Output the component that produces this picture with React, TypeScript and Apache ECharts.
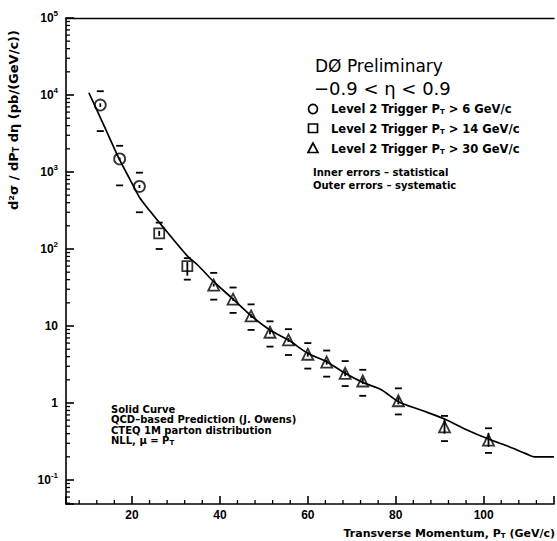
import React, { useEffect, useRef } from 'react';
import * as echarts from 'echarts';

const FONT = 'Liberation Sans';
const WIDE = 'DejaVu Sans';

// Axis ranges
const X_MIN = 5;
const X_MAX = 116;
const Y_MIN = 0.0488;
const Y_MAX = 100000;

// Level 2 Trigger PT > 6 GeV/c (circles)
const circleX = [12.8, 17.2, 21.7];
const circleY = [7400, 1480, 650];
const circleSysLo = [3400, 670, 300];
const circleSysHi = [11200, 2190, 980];
const circleStatLo = [7000, 1420, 620];
const circleStatHi = [7800, 1540, 680];

// Level 2 Trigger PT > 14 GeV/c (squares)
const squareX = [26.2, 32.6];
const squareY = [160, 60];
const squareSysLo = [100, 40];
const squareSysHi = [220, 76];
const squareStatLo = [148, 45];
const squareStatHi = [172, 68];

// Level 2 Trigger PT > 30 GeV/c (triangles)
const triX = [38.6, 43.0, 47.1, 51.4, 55.6, 60.0, 64.3, 68.5, 72.5, 80.6, 91.1, 101.1];
const triY = [34, 22.3, 13.5, 8.3, 6.6, 4.3, 3.4, 2.43, 1.93, 1.07, 0.49, 0.33];
const triSysLo = [22, 14.8, 8.9, 5.4, 4.2, 2.8, 2.2, 1.66, 1.24, 0.71, 0.32, 0.225];
const triSysHi = [49, 31.6, 19.1, 11.5, 9.1, 6.0, 4.8, 3.5, 2.7, 1.55, 0.68, 0.47];
const triStatLo = [32.5, 21.3, 12.8, 7.8, 6.2, 4.0, 3.15, 2.23, 1.76, 0.96, 0.40, 0.27];
const triStatHi = [35.5, 23.3, 14.2, 8.8, 7.0, 4.6, 3.65, 2.63, 2.1, 1.18, 0.62, 0.41];

// QCD-based prediction (solid curve)
const curveX = [10.2, 12.6, 15, 17.1, 19.5, 21.7, 24, 26.4, 29.5, 32.8, 35.0, 38.6, 42.8, 46.9, 51.4, 55.6, 60.0, 64.3, 68.5, 72.6, 76.8, 80.6, 85.7, 91.1, 96.1, 101.1, 105.8, 109.6, 111.5, 116];
const curveY = [10700, 5400, 2700, 1480, 810, 470, 316, 215, 131, 79, 61.5, 37.6, 22.9, 13.9, 8.87, 6.58, 4.42, 3.44, 2.43, 1.84, 1.48, 1.04, 0.81, 0.62, 0.45, 0.34, 0.27, 0.22, 0.20, 0.20];

// Axis minor ticks
const xMinorTicks = [8, 12, 16, 24, 28, 32, 36, 44, 48, 52, 56, 64, 68, 72, 76, 84, 88, 92, 96, 104, 108, 112];
const yDecades = [-2, -1, 0, 1, 2, 3, 4];
const yMinorMult = [2, 3, 4, 5, 6, 7, 8, 9];

// Text annotations
const legendLabels = [
  'Level 2 Trigger P{sub|T} > 6 GeV/c',
  'Level 2 Trigger P{sub|T} > 14 GeV/c',
  'Level 2 Trigger P{sub|T} > 30 GeV/c',
];
const noteLines = ['Solid Curve', 'QCD–based Prediction (J. Owens)', 'CTEQ 1M parton distribution', 'NLL, μ = P{sub|T}'];

function buildErr(xs: number[], sysLo: number[], sysHi: number[], stLo: number[], stHi: number[]) {
  return xs.map((x, i) => [x, sysLo[i], sysHi[i], stLo[i], stHi[i]]);
}

export default function App() {
  const ref = useRef<HTMLDivElement>(null);

  useEffect(() => {
    if (!ref.current) return;
    const chart = echarts.init(ref.current, null, { renderer: 'svg' });

    const yMinor: number[][] = [];
    yDecades.forEach((d) => {
      yMinorMult.forEach((m) => {
        const v = m * Math.pow(10, d);
        if (v > Y_MIN && v < Y_MAX) yMinor.push([X_MIN, v]);
      });
    });
    const xMinor = xMinorTicks.map((x) => [x, Y_MIN]);

    const errRender = (params: any, api: any) => {
      const x = api.value(0);
      const sLo = api.coord([x, api.value(1)]);
      const sHi = api.coord([x, api.value(2)]);
      const tLo = api.coord([x, api.value(3)]);
      const tHi = api.coord([x, api.value(4)]);
      const w = 3.5;
      const st = { stroke: '#000', lineWidth: 1.8 };
      return {
        type: 'group',
        children: [
          { type: 'line', shape: { x1: sLo[0] - w, y1: sLo[1], x2: sLo[0] + w, y2: sLo[1] }, style: st },
          { type: 'line', shape: { x1: sHi[0] - w, y1: sHi[1], x2: sHi[0] + w, y2: sHi[1] }, style: st },
          { type: 'line', shape: { x1: tLo[0], y1: tLo[1], x2: tHi[0], y2: tHi[1] }, style: st },
        ],
      };
    };

    const markerStyle = { color: 'rgba(0,0,0,0)', borderColor: '#000', borderWidth: 1.8 };
    const subRich = (size: number, pad: number) => ({
      sub: { fontSize: size, fontWeight: 'bold', fontFamily: WIDE, fill: '#000', padding: [pad, 0, 0, 0] },
    });

    const option: any = {
      animation: false,
      backgroundColor: '#fff',
      grid: { left: 66, top: 18, right: -5, bottom: 37, containLabel: false },
      xAxis: [
        {
          type: 'value',
          min: X_MIN,
          max: X_MAX,
          axisLine: { show: true, onZero: false, lineStyle: { color: '#000', width: 1.6 } },
          axisTick: { show: true, inside: true, length: 8, lineStyle: { color: '#000', width: 1.6 } },
          axisLabel: {
            color: '#000',
            fontSize: 12,
            fontWeight: 'bold',
            fontFamily: FONT,
            margin: 5,
            formatter: (v: number) => (Math.abs(v / 20 - Math.round(v / 20)) < 1e-6 ? String(v) : ''),
          },
          splitLine: { show: false },
        },
        {
          type: 'value',
          position: 'top',
          min: X_MIN,
          max: X_MAX,
          axisLine: { show: true, onZero: false, lineStyle: { color: '#000', width: 1.4 } },
          axisTick: { show: false },
          axisLabel: { show: false },
          splitLine: { show: false },
        },
      ],
      yAxis: {
        type: 'log',
        logBase: 10,
        min: Y_MIN,
        max: Y_MAX,
        axisLine: { show: true, onZero: false, lineStyle: { color: '#000', width: 1.6 } },
        axisTick: { show: true, inside: true, length: 8, lineStyle: { color: '#000', width: 1.6 } },
        axisLabel: {
          color: '#000',
          fontSize: 12,
          fontWeight: 'bold',
          fontFamily: FONT,
          margin: 8,
          formatter: (v: number) => {
            const e = Math.log10(v);
            const r = Math.round(e);
            if (Math.abs(e - r) > 1e-6) return '';
            if (r === 0) return '1';
            if (r === 1) return '10';
            return `10{sup|${r}}`;
          },
          rich: {
            sup: { fontSize: 8, fontWeight: 'bold', fontFamily: FONT, color: '#000', padding: [0, 0, 10, 0] },
          },
        },
        splitLine: { show: false },
      },
      series: [
        {
          type: 'line',
          name: 'QCD',
          data: curveX.map((x, i) => [x, curveY[i]]),
          showSymbol: false,
          smooth: 0.3,
          lineStyle: { color: '#000', width: 1.7 },
          clip: true,
          z: 2,
        },
        {
          type: 'custom',
          name: 'circleErr',
          renderItem: errRender,
          data: buildErr(circleX, circleSysLo, circleSysHi, circleStatLo, circleStatHi),
          z: 3,
        },
        {
          type: 'custom',
          name: 'squareErr',
          renderItem: errRender,
          data: buildErr(squareX, squareSysLo, squareSysHi, squareStatLo, squareStatHi),
          z: 3,
        },
        {
          type: 'custom',
          name: 'triErr',
          renderItem: errRender,
          data: buildErr(triX, triSysLo, triSysHi, triStatLo, triStatHi),
          z: 3,
        },
        {
          type: 'scatter',
          name: 'Level 2 Trigger PT > 6 GeV/c',
          symbol: 'circle',
          symbolSize: 11,
          itemStyle: markerStyle,
          data: circleX.map((x, i) => [x, circleY[i]]),
          z: 4,
        },
        {
          type: 'scatter',
          name: 'Level 2 Trigger PT > 14 GeV/c',
          symbol: 'rect',
          symbolSize: 10,
          itemStyle: markerStyle,
          data: squareX.map((x, i) => [x, squareY[i]]),
          z: 4,
        },
        {
          type: 'scatter',
          name: 'Level 2 Trigger PT > 30 GeV/c',
          symbol: 'triangle',
          symbolSize: 11,
          itemStyle: markerStyle,
          data: triX.map((x, i) => [x, triY[i]]),
          z: 4,
        },
        {
          type: 'custom',
          name: 'yMinorTicks',
          clip: false,
          silent: true,
          renderItem: (params: any, api: any) => {
            const p = api.coord([api.value(0), api.value(1)]);
            return { type: 'line', shape: { x1: p[0], y1: p[1], x2: p[0] + 4, y2: p[1] }, style: { stroke: '#000', lineWidth: 1.3 } };
          },
          data: yMinor,
          z: 5,
        },
        {
          type: 'custom',
          name: 'xMinorTicks',
          clip: false,
          silent: true,
          renderItem: (params: any, api: any) => {
            const p = api.coord([api.value(0), api.value(1)]);
            return { type: 'line', shape: { x1: p[0], y1: p[1], x2: p[0], y2: p[1] - 4 }, style: { stroke: '#000', lineWidth: 1.3 } };
          },
          data: xMinor,
          z: 5,
        },
      ],
      graphic: [
        {
          type: 'text',
          x: 13,
          y: 120,
          rotation: Math.PI / 2,
          style: {
            text: 'd²σ / dP{sub|T} dη (pb/(GeV/c))',
            fontSize: 13,
            fontWeight: 'bold',
            fontFamily: WIDE,
            fill: '#000',
            align: 'center',
            verticalAlign: 'middle',
            rich: subRich(8, 6),
          },
        },
        {
          type: 'text',
          x: 555,
          y: 533,
          style: {
            text: 'Transverse Momentum, P{sub|T} (GeV/c)',
            fontSize: 11,
            fontWeight: 'bold',
            fontFamily: WIDE,
            fill: '#000',
            align: 'right',
            verticalAlign: 'middle',
            rich: subRich(7, 6),
          },
        },
        {
          type: 'text',
          x: 315,
          y: 66,
          style: { text: 'DØ Preliminary', fontSize: 17, fontFamily: WIDE, fill: '#000', verticalAlign: 'middle' },
        },
        {
          type: 'text',
          x: 314,
          y: 88,
          style: { text: '−0.9 < η < 0.9', fontSize: 18, fontFamily: WIDE, fill: '#000', verticalAlign: 'middle' },
        },
        { type: 'circle', shape: { cx: 313, cy: 109, r: 4.5 }, style: { fill: 'none', stroke: '#000', lineWidth: 1.7 } },
        { type: 'rect', shape: { x: 308.5, y: 124, width: 9, height: 8.5 }, style: { fill: 'none', stroke: '#000', lineWidth: 1.7 } },
        { type: 'polygon', shape: { points: [[313, 143], [308, 152.5], [318, 152.5]] }, style: { fill: 'none', stroke: '#000', lineWidth: 1.7 } },
        ...legendLabels.map((t, i) => ({
          type: 'text',
          x: 331,
          y: 109 + i * 20,
          style: {
            text: t,
            fontSize: 11.5,
            fontWeight: 'bold',
            fontFamily: WIDE,
            fill: '#000',
            verticalAlign: 'middle',
            rich: subRich(7, 6),
          },
        })),
        {
          type: 'text',
          x: 313,
          y: 172,
          style: { text: 'Inner errors – statistical', fontSize: 10, fontWeight: 'bold', fontFamily: WIDE, fill: '#000', verticalAlign: 'middle' },
        },
        {
          type: 'text',
          x: 313,
          y: 185,
          style: { text: 'Outer errors – systematic', fontSize: 10, fontWeight: 'bold', fontFamily: WIDE, fill: '#000', verticalAlign: 'middle' },
        },
        ...noteLines.map((t, i) => ({
          type: 'text',
          x: 111,
          y: 409 + i * 10.5,
          style: {
            text: t,
            fontSize: 10,
            fontWeight: 'bold',
            fontFamily: WIDE,
            fill: '#000',
            verticalAlign: 'middle',
            rich: subRich(7, 5),
          },
        })),
      ],
    };

    chart.setOption(option);
    return () => chart.dispose();
  }, []);

  return <div ref={ref} style={{ position: 'fixed', left: 0, top: 0, width: 557, height: 541 }} />;
}
